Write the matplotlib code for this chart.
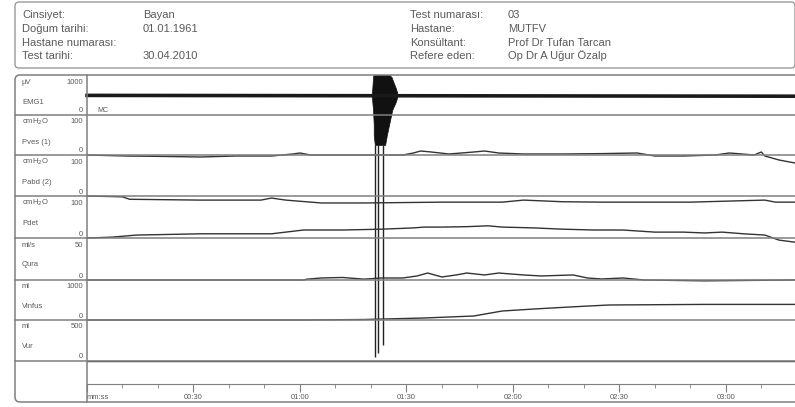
import numpy as np
import matplotlib
matplotlib.use("Agg")
import matplotlib.pyplot as plt
from matplotlib.lines import Line2D
from matplotlib.patches import FancyBboxPatch
from matplotlib.transforms import IdentityTransform

plt.rcParams['font.family'] = ['Liberation Sans', 'DejaVu Sans']

W, H = 795, 407

# header info
left_keys = ['Cinsiyet:', 'Doğum tarihi:', 'Hastane numarası:', 'Test tarihi:']
left_vals = ['Bayan', '01.01.1961', '', '30.04.2010']
right_keys = ['Test numarası:', 'Hastane:', 'Konsültant:', 'Refere eden:']
right_vals = ['03', 'MUTFV', 'Prof Dr Tufan Tarcan', 'Op Dr A Uğur Özalp']

# channels
ch_units = ['µV', 'cmH$_2$O', 'cmH$_2$O', 'cmH$_2$O', 'ml/s', 'ml', 'ml']
ch_names = ['EMG1', 'Pves (1)', 'Pabd (2)', 'Pdet', 'Qura', 'Vinfus', 'Vur']
ch_max = [1000, 100, 100, 100, 50, 1000, 500]

# time axis (seconds)
t_end = 199.5
major_ticks = [0, 30, 60, 90, 120, 150, 180]
major_labels = ['mm:ss', '00:30', '01:00', '01:30', '02:00', '02:30', '03:00']

# traces
emg_t = [0, 199.5]
emg_v = [490, 470]

pves_t = [0, 11, 21, 32, 42, 52, 58, 60, 63, 78, 89, 92, 94, 97, 102, 109, 112, 116,
          123, 134, 145, 155, 160, 168, 177, 181, 188, 190, 191, 195, 199.5]
pves_v = [0, -2.5, -3.5, -5, -2.5, -2.5, 2.5, 5, 0, 0, 0, 5, 10, 7.5, 2.5, 7.5, 10, 5,
          2.5, 2.5, 3.5, 5, -2.5, -2.5, 0, 5, 0, 7.5, -2.5, -12.5, -20]

pabd_t = [0, 10, 12, 32, 49, 52, 56, 66, 78, 100, 117, 123, 134, 145, 170, 191, 194, 199.5]
pabd_v = [0, -2, -8, -10, -10, -5, -10, -17, -17, -15, -15, -10, -14, -15, -15, -10, -15, -15]

pdet_t = [0, 7, 14, 32, 44, 52, 56, 61, 72, 83, 92, 95, 100, 107, 113, 117, 126, 134,
          143, 151, 160, 168, 174, 179, 185, 191, 195, 199.5]
pdet_v = [0, 2, 7, 10, 10, 10, 14, 19, 19, 21, 24, 26, 26, 27, 29, 26, 24, 21,
          19, 19, 14, 14, 12, 14, 10, 7, -5, -10]

qura_t = [0, 61, 62, 66, 72, 78, 83, 89, 93, 96, 100, 104, 107, 112, 116, 123, 128,
          137, 141, 145, 151, 157, 174, 199.5]
qura_v = [0, 0, 1, 2.4, 3, 1, 2.4, 2.4, 4.8, 8.3, 3.6, 6, 8.3, 6, 8.3, 6, 4.8,
          6, 2.4, 1.2, 2.4, 0, -1, 0]

vinf_t = [0, 61, 78, 95, 109, 117, 126, 136, 147, 174, 199.5]
vinf_v = [0, 0, 12, 50, 100, 225, 275, 325, 375, 390, 390]

vur_t = [0, 199.5]
vur_v = [0, 0]

# artefact on EMG channel
spike_y = [1000, 950, 675, 500, 325, 125, -250, -500, -750]
spike_left = [80.7, 80.6, 80.4, 80.2, 80.4, 80.6, 80.8, 80.8, 81.1]
spike_right = [85.2, 85.8, 87.0, 87.6, 87.0, 86.0, 85.1, 84.5, 84.0]
tail_t = [81.1, 81.9, 83.4]
tail_end = [-6050, -5950, -5750]


def fx(x):
    return x / W

def fy(y):
    return 1 - y / H

def box(x0, y0, x1, y1):
    return [fx(x0), fy(y1), fx(x1) - fx(x0), fy(y0) - fy(y1)]

def hline(fig, y, x0, x1, color='#7f7f7f', lw=1.1):
    fig.add_artist(Line2D([fx(x0), fx(x1)], [fy(y), fy(y)], color=color, lw=lw))


fig = plt.figure(figsize=(W / 100, H / 100), dpi=100)
fig.patch.set_facecolor('white')

txt = '#5a5a5a'
grid = '#7f7f7f'

# header box
fig.add_artist(FancyBboxPatch((15, H - 68), 780, 66, boxstyle='round,pad=0,rounding_size=4',
                              transform=IdentityTransform(), fill=False, ec='#9a9a9a', lw=1.0))
rows_y = [15, 29, 43, 56]
for i, y in enumerate(rows_y):
    fig.text(fx(22), fy(y), left_keys[i], color=txt, fontsize=8, va='center')
    fig.text(fx(143), fy(y), left_vals[i], color=txt, fontsize=8, va='center')
    fig.text(fx(410), fy(y), right_keys[i], color=txt, fontsize=8, va='center')
    fig.text(fx(508), fy(y), right_vals[i], color=txt, fontsize=8, va='center')

# panel frame
fig.add_artist(FancyBboxPatch((15, H - 402), 790, 327, boxstyle='round,pad=0,rounding_size=5',
                              transform=IdentityTransform(), fill=False, ec=grid, lw=1.1))
fig.add_artist(Line2D([fx(87), fx(87)], [fy(75), fy(402)], color=grid, lw=1.1))

tops = [75, 115, 155, 196, 238, 280, 320, 361]
for y in tops[1:]:
    hline(fig, y, 15, 795)

# channel labels
for i in range(7):
    top, bot = tops[i], tops[i + 1]
    fig.text(fx(22), fy(top + 7), ch_units[i], color=txt, fontsize=5.5, va='center')
    fig.text(fx(83), fy(top + 7), str(ch_max[i]), color=txt, fontsize=5.5, va='center', ha='right')
    fig.text(fx(22), fy(top + 27), ch_names[i], color=txt, fontsize=5.5, va='center')
    fig.text(fx(83), fy(bot - 4), '0', color=txt, fontsize=5.5, va='center', ha='right')

# data axes
series = [(emg_t, emg_v), (pves_t, pves_v), (pabd_t, pabd_v), (pdet_t, pdet_v),
          (qura_t, qura_v), (vinf_t, vinf_v), (vur_t, vur_v)]
axes = []
for i in range(7):
    ax = fig.add_axes(box(87, tops[i], 795, tops[i + 1]))
    ax.set_xlim(0, t_end)
    ax.set_ylim(0, ch_max[i])
    ax.axis('off')
    t, v = series[i]
    if i == 0:
        ax.plot(t, v, color='#1a1a1a', lw=2.6, clip_on=False)
    else:
        ax.plot(t, v, color='#333333', lw=1.0, clip_on=False)
    axes.append(ax)

emg_ax = axes[0]
emg_ax.fill_betweenx(spike_y, spike_left, spike_right, color='#111111', lw=0.5, clip_on=False)
emg_ax.vlines(tail_t, spike_y[-1], tail_end, color='#222222', lw=1.0, clip_on=False)
emg_ax.text(3, 120, 'MC', fontsize=5, color=txt, va='center')

# time axis
tax = fig.add_axes(box(87, 374, 795, 384))
tax.set_xlim(0, t_end)
tax.set_ylim(0, 1)
for s in ['top', 'left', 'right']:
    tax.spines[s].set_visible(False)
tax.spines['bottom'].set_color(grid)
tax.set_yticks([])
tax.set_xticks(major_ticks)
tax.set_xticklabels(major_labels)
tax.set_xticks(np.arange(0, 200, 10), minor=True)
tax.tick_params(axis='x', which='major', length=6, color=grid, labelsize=5.5,
                labelcolor=txt, pad=1.5)
tax.tick_params(axis='x', which='minor', length=3, color=grid)
tax.get_xticklabels()[0].set_horizontalalignment('left')
tax.patch.set_alpha(0)

fig.savefig('out.png', dpi=100)
